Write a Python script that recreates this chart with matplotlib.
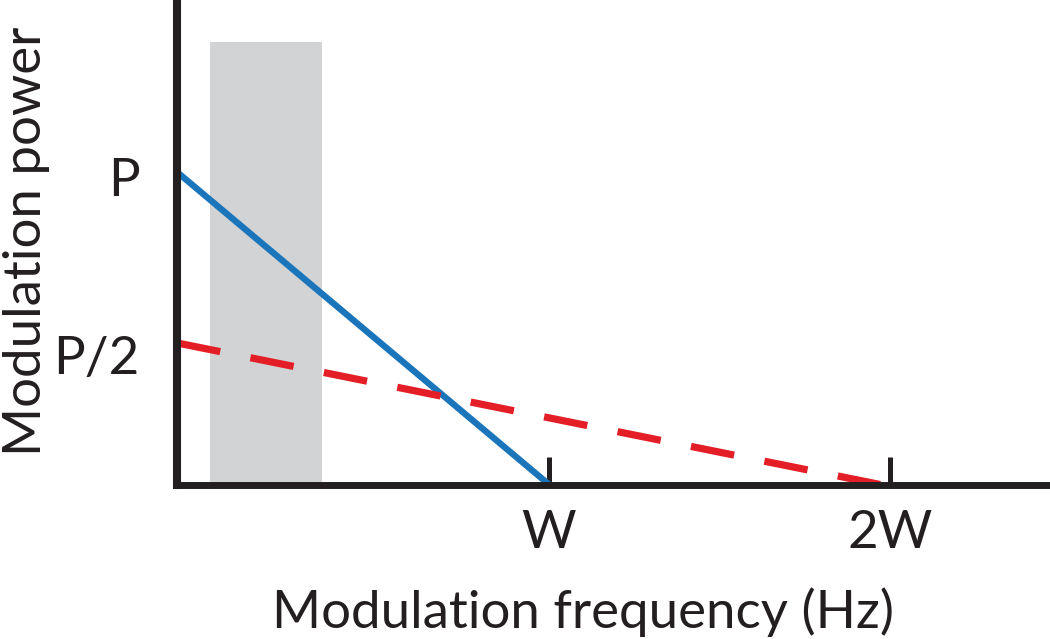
import matplotlib
matplotlib.use("Agg")
import matplotlib.pyplot as plt
from matplotlib.patches import Rectangle

plt.rcParams['font.family'] = ['Lato', 'DejaVu Sans']

# Schematic data (x in units of W, y in units of P)
blue_x = [0.0, 1.0]
blue_y = [1.0, 0.0]
red_x = [0.0, 1.89]
red_y = [0.453, 0.0]
band_x = [0.089, 0.39]
band_top = 1.416
xtick_pos = [1.0, 1.917]
xtick_labels = ['W', '2W']
ytick_pos = [0.984, 0.414]
ytick_labels = ['P', 'P/2']

BLACK = '#231F20'
BLUE = '#1B75BB'
RED = '#E41E26'
GRAY = '#D1D3D4'
FS = 38

W, H = 1050, 639
fig = plt.figure(figsize=(W / 100, H / 100), dpi=100)
ax = fig.add_axes([177 / W, (H - 484.5) / H, (W - 177) / W, 484.5 / H])
ax.set_xlim(0, (W - 177) / 372)
ax.set_ylim(0, 484.5 / 312.5)

ax.add_patch(Rectangle((band_x[0], 0), band_x[1] - band_x[0], band_top,
                       facecolor=GRAY, edgecolor='none', zorder=1))
ax.plot(blue_x, blue_y, color=BLUE, lw=4.6, solid_capstyle='butt', zorder=3)
ax.plot(red_x, red_y, color=RED, lw=5.2, dashes=(6.1, 4.27), dash_capstyle='butt', zorder=3)

for s in ['top', 'right']:
    ax.spines[s].set_visible(False)
ax.spines['left'].set_linewidth(5.8)
ax.spines['bottom'].set_linewidth(5.0)
ax.spines['left'].set_color(BLACK)
ax.spines['bottom'].set_color(BLACK)
ax.spines['left'].set_zorder(5)
ax.spines['bottom'].set_zorder(5)

ax.set_xticks(xtick_pos)
ax.set_xticklabels(xtick_labels, fontsize=FS, color=BLACK)
ax.tick_params(axis='x', direction='in', length=20.5, width=3.6, color=BLACK, pad=18)
ax.set_yticks(ytick_pos)
ax.set_yticklabels(ytick_labels, fontsize=FS, color=BLACK)
ax.tick_params(axis='y', length=0, pad=27)

fig.text(583 / W, 11 / H, 'Modulation frequency (Hz)', fontsize=FS, color=BLACK,
         ha='center', va='baseline')
fig.text(41 / W, (H - 241) / H, 'Modulation power', fontsize=FS, color=BLACK,
         ha='center', va='baseline', rotation=90, rotation_mode='anchor')

fig.savefig('out.png', dpi=100)
